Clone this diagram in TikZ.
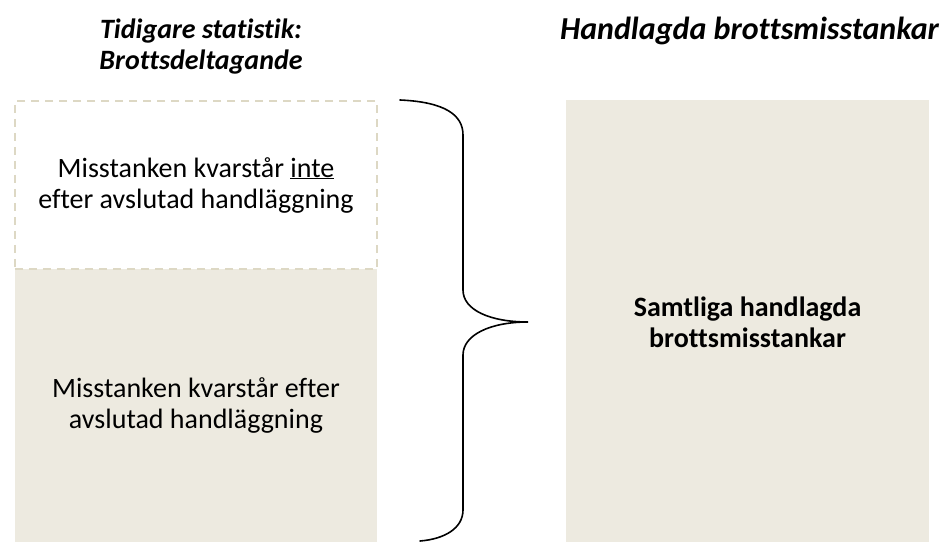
\documentclass[tikz,border=0pt]{standalone}
\usepackage{fontspec}
\setmainfont{Carlito}[Ligatures={NoCommon,NoContextual}]
\definecolor{boxfill}{HTML}{EDEAE0}
\definecolor{dashc}{HTML}{DDD8C4}
\begin{document}
\begin{tikzpicture}[x=1bp,y=-1bp,
  box/.style={draw=none,fill=boxfill,inner sep=0pt,outer sep=0pt,align=center,font=\fontsize{28bp}{31bp}\selectfont},
  title/.style={font=\bfseries\itshape,align=center,inner sep=0pt,anchor=base},
  brace/.style={line width=1.6bp,line cap=round}]
\useasboundingbox (0,0) rectangle (946,542);
\node[box,minimum width=362bp,minimum height=275bp] (kvar) at (196,405.5) {Misstanken kvarstår efter\\avslutad handläggning};
\node[box,fill=white,draw=dashc,dash pattern=on 8bp off 6bp,line width=1.6bp,minimum width=362bp,minimum height=168bp] (inte) at (196,185) {Misstanken kvarstår \underline{inte}\\efter avslutad handläggning};
\node[box,minimum width=363bp,minimum height=443bp,font=\fontsize{28bp}{31bp}\selectfont\bfseries] (samt) at (747.5,322) {Samtliga handlagda\\brottsmisstankar};
\node[title,font=\fontsize{28bp}{33bp}\selectfont\bfseries\itshape] (t1a) at (201,39) {Tidigare statistik:};
\node[title,font=\fontsize{28bp}{33bp}\selectfont\bfseries\itshape] (t1b) at (201,70) {Brottsdeltagande};
\node[title,font=\fontsize{32bp}{38bp}\selectfont\bfseries\itshape] (t2) at (749.5,40) {Handlagda brottsmisstankar};
\coordinate (btop) at (400,100);
\coordinate (btip) at (528,322);
\coordinate (bbot) at (420,541);
\draw[brace] (btop) .. controls (445,102) and (463,115) .. (463,135)
  -- (463,290) .. controls (463,310) and (490,322) .. (btip)
  .. controls (490,322) and (463,335) .. (463,355)
  -- (463,510) .. controls (463,528) and (445,539) .. (bbot);
\end{tikzpicture}
\end{document}
